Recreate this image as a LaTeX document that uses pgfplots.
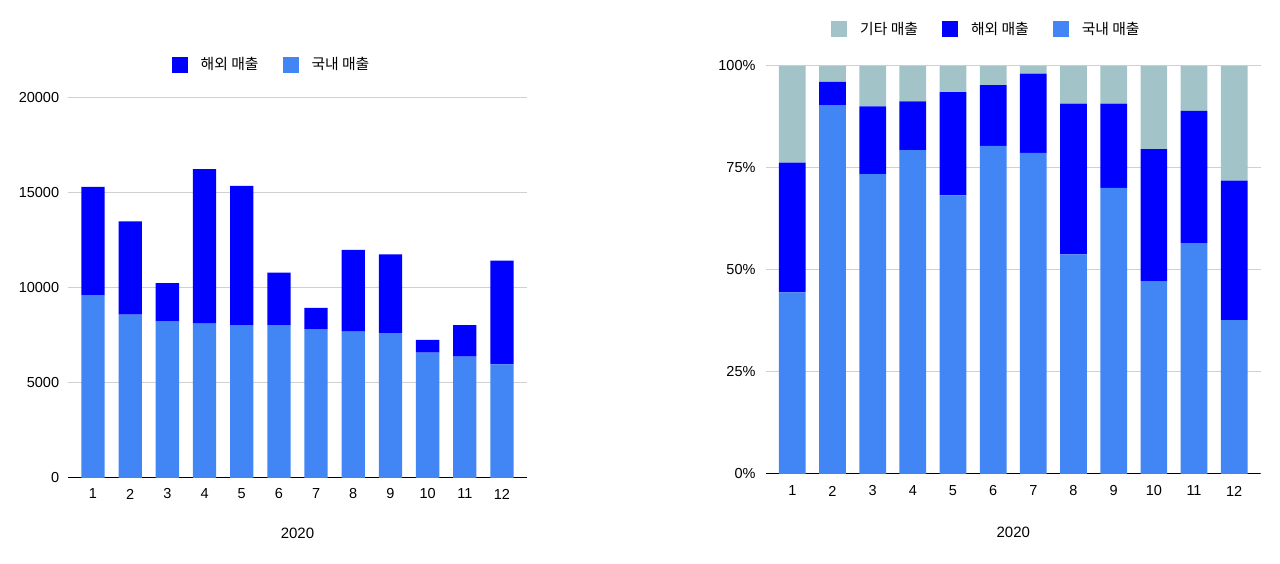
\documentclass[border=0pt]{standalone}
\usepackage{pgfplots}
\pgfplotsset{compat=1.18}
\usepackage{fontspec}
\setmainfont{Liberation Sans}
\newfontfamily\kr{Noto Sans CJK KR}
\definecolor{dom}{HTML}{4285F4}
\definecolor{ovs}{HTML}{0000FF}
\definecolor{oth}{HTML}{A2C4C9}
\definecolor{gridc}{HTML}{D0D0D0}
\pgfplotsset{
  sqlegend/.style={legend image code/.code={\fill[##1,draw=none] (0pt,-8pt) rectangle (16pt,8pt);}},
  gchart/.style={
    scale only axis,
    anchor=south west,
    ybar stacked,
    enlarge x limits=false,
    scaled y ticks=false,
    axis line style={draw=none},
    major tick length=0pt,
    ymajorgrids,
    grid style={gridc, line width=1pt},
    xtick={1,...,12},
    /pgf/number format/assume math mode=true,
    /pgf/number format/1000 sep={},
    tick label style={font=\fontsize{14.5}{16}\selectfont},
    yticklabel style={anchor=east, inner sep=0pt},
    xticklabel style={anchor=center, inner sep=0pt},
    xlabel style={font=\fontsize{15}{17}\selectfont, at={(axis description cs:0.5,0)}, anchor=center, inner sep=0pt},
    legend style={draw=none, fill=none, inner sep=0pt, outer sep=0pt,
      font=\kr\fontsize{14.8}{16}\selectfont,
      /tikz/every odd column/.append style={column sep=11pt},
      /tikz/every even column/.append style={column sep=22pt}},
    legend cell align=left,
    legend columns=-1,
    reverse legend,
  }
}
\pgfplotstableread{
m dom ovs
1 9630 5690
2 8600 4910
3 8250 2010
4 8120 8140
5 8050 7320
6 8050 2760
7 7840 1110
8 7710 4290
9 7630 4140
10 6600 670
11 6390 1660
12 5980 5460
}\lefttab
\pgfplotstableread{
m dom ovs oth
1 44.5 31.8 23.7
2 90.4 5.7 3.9
3 73.5 16.6 9.9
4 79.4 11.9 8.7
5 68.3 25.3 6.4
6 80.4 14.9 4.7
7 78.7 19.4 1.9
8 53.8 37.0 9.2
9 70.1 20.7 9.2
10 47.3 32.3 20.4
11 56.6 32.4 11.0
12 37.7 34.2 28.1
}\righttab
\begin{document}
\begin{tikzpicture}
\path[use as bounding box] (0pt,0pt) rectangle (1280pt,564pt);
\begin{axis}[gchart,
  at={(68pt,86pt)}, width=459pt, height=380pt,
  xmin=0.327, xmax=12.673, ymin=0, ymax=20000,
  ytick={0,5000,10000,15000,20000},
  bar width=23.3pt,
  yticklabel style={xshift=-8.7pt},
  xticklabel style={yshift=-16pt},
  xlabel={2020},
  xlabel style={yshift=-55pt},
  legend style={at={(axis description cs:0.4434,1.088)}, anchor=center},
]
\addplot[fill=dom, draw=none, sqlegend] table[x=m, y=dom] {\lefttab};
\addlegendentry{국내 매출}
\addplot[fill=ovs, draw=none, sqlegend] table[x=m, y=ovs] {\lefttab};
\addlegendentry{해외 매출}
\draw[black, line width=1pt] (rel axis cs:0,0) -- (rel axis cs:1,0);
\end{axis}
\begin{axis}[gchart,
  at={(766pt,90pt)}, width=494.5pt, height=408pt,
  xmin=0.345, xmax=12.655, ymin=0, ymax=100,
  ytick={0,25,50,75,100},
  yticklabel={\pgfmathprintnumber{\tick}\%},
  bar width=26.7pt,
  yticklabel style={xshift=-10.3pt},
  xticklabel style={yshift=-17pt},
  xlabel={2020},
  xlabel style={yshift=-58.5pt},
  legend style={at={(axis description cs:0.4457,1.09)}, anchor=center},
]
\addplot[fill=dom, draw=none, sqlegend] table[x=m, y=dom] {\righttab};
\addlegendentry{국내 매출}
\addplot[fill=ovs, draw=none, sqlegend] table[x=m, y=ovs] {\righttab};
\addlegendentry{해외 매출}
\addplot[fill=oth, draw=none, sqlegend] table[x=m, y=oth] {\righttab};
\addlegendentry{기타 매출}
\draw[black, line width=1pt] (rel axis cs:0,0) -- (rel axis cs:1,0);
\end{axis}
\end{tikzpicture}
\end{document}
